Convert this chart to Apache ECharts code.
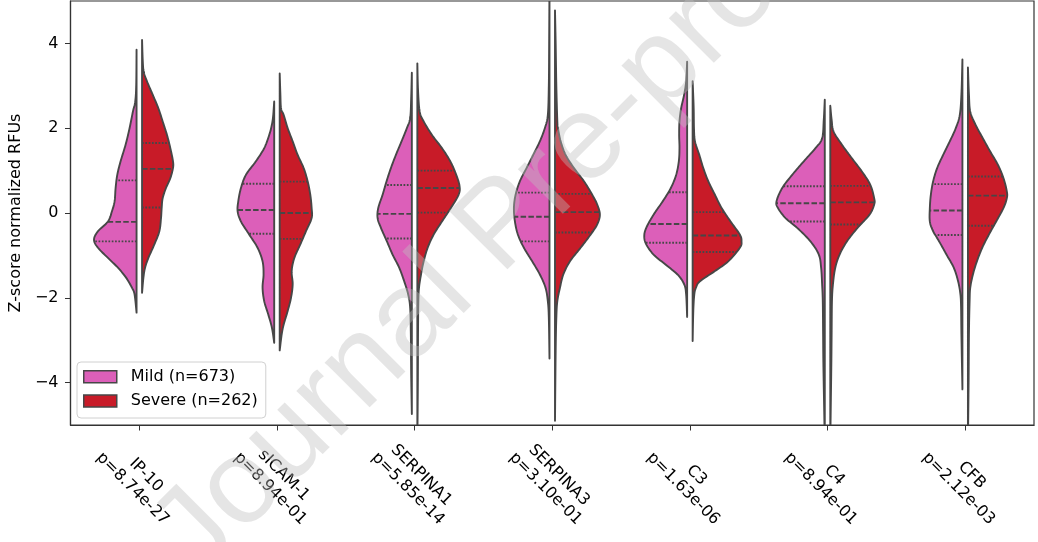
<!DOCTYPE html>
<html>
<head>
<meta charset="utf-8">
<script src="https://cdn.jsdelivr.net/npm/echarts@6/dist/echarts.min.js"></script>
<style>
html,body{margin:0;padding:0;background:#fff;}
#chart{width:1038px;height:542px;}
</style>
</head>
<body>
<div id="chart"></div>
<script>
// ---------------- DATA ----------------
const categories = ['IP-10', 'sICAM-1', 'SERPINA1', 'SERPINA3', 'C3', 'C4', 'CFB'];
const pValues = ['8.74e-27', '8.94e-01', '5.85e-14', '3.10e-01', '1.63e-06', '8.94e-01', '2.12e-03'];
const yTicks = [-4, -2, 0, 2, 4];
const seriesNames = ['Mild (n=673)', 'Severe (n=262)'];

// density profiles: [value, density], top to bottom
const mildIP10 = [[3.85,0],[3.02,0.01],[2.63,0.04],[2.39,0.11],[2.0,0.21],[1.61,0.33],[1.22,0.48],[0.90,0.58],[0.59,0.63],[0.28,0.66],[0.04,0.74],[-0.2,0.86],[-0.43,1.16],[-0.63,1.28],[-0.82,1.16],[-1.06,0.86],[-1.29,0.56],[-1.53,0.31],[-1.76,0.14],[-1.92,0.06],[-2.35,0]];
const mildSICAM1 = [[2.63,0],[2.3,0.03],[2.08,0.07],[1.84,0.15],[1.53,0.30],[1.22,0.55],[0.90,0.85],[0.59,1.00],[0.28,1.08],[0.04,1.10],[-0.20,1.00],[-0.51,0.75],[-0.82,0.50],[-1.14,0.35],[-1.45,0.32],[-1.76,0.35],[-2.08,0.30],[-2.39,0.18],[-2.70,0.07],[-3.06,0]];
const mildSERPINA1 = [[3.31,0],[2.7,0.02],[2.24,0.05],[2.0,0.15],[1.69,0.31],[1.37,0.48],[1.06,0.63],[0.75,0.76],[0.43,0.88],[0.12,1.01],[-0.12,1.03],[-0.35,0.93],[-0.67,0.75],[-0.98,0.58],[-1.29,0.38],[-1.61,0.23],[-1.92,0.11],[-2.24,0.05],[-2.86,0.03],[-3.8,0.02],[-4.74,0]];
const mildSERPINA3 = [[5.4,0],[4.0,0.01],[3.0,0.02],[2.31,0.05],[2.0,0.14],[1.69,0.29],[1.37,0.49],[1.06,0.69],[0.75,0.89],[0.43,1.02],[0.12,1.07],[-0.20,1.04],[-0.51,0.95],[-0.82,0.77],[-1.14,0.52],[-1.45,0.29],[-1.76,0.12],[-2.08,0.05],[-2.47,0.02],[-3.43,0]];
const mildC3 = [[3.57,0],[3.1,0.03],[2.79,0.09],[2.47,0.18],[2.16,0.23],[1.84,0.24],[1.53,0.23],[1.22,0.25],[0.90,0.33],[0.59,0.49],[0.28,0.73],[-0.04,1.01],[-0.35,1.23],[-0.55,1.29],[-0.74,1.23],[-0.98,1.01],[-1.21,0.66],[-1.45,0.29],[-1.68,0.09],[-1.92,0.03],[-2.45,0]];
const mildC4 = [[2.67,0],[2.2,0.03],[1.76,0.08],[1.53,0.28],[1.22,0.63],[0.90,0.98],[0.59,1.28],[0.28,1.45],[0.12,1.41],[-0.12,1.18],[-0.35,0.83],[-0.67,0.43],[-0.98,0.18],[-1.29,0.11],[-1.68,0.08],[-2.08,0.06],[-2.86,0.05],[-3.65,0.04],[-5.4,0]];
const mildCFB = [[3.62,0],[2.8,0.03],[2.31,0.08],[2.0,0.20],[1.69,0.38],[1.37,0.58],[1.06,0.76],[0.75,0.88],[0.43,0.95],[0.12,0.98],[-0.20,0.98],[-0.43,0.88],[-0.67,0.70],[-0.98,0.48],[-1.29,0.26],[-1.61,0.13],[-1.92,0.06],[-2.24,0.04],[-2.86,0.03],[-4.16,0]];

const severeIP10 = [[4.08,0],[3.6,0.02],[3.33,0.05],[3.10,0.15],[2.79,0.32],[2.47,0.49],[2.16,0.62],[1.84,0.75],[1.53,0.85],[1.22,0.93],[1.06,0.93],[0.82,0.85],[0.59,0.72],[0.35,0.62],[0.12,0.59],[-0.12,0.57],[-0.43,0.52],[-0.74,0.37],[-1.06,0.19],[-1.29,0.09],[-1.53,0.04],[-1.88,0]];
const severeSICAM1 = [[3.29,0],[2.8,0.02],[2.47,0.04],[2.31,0.12],[2.0,0.24],[1.69,0.39],[1.37,0.54],[1.06,0.72],[0.75,0.84],[0.43,0.92],[0.12,0.96],[-0.12,0.96],[-0.43,0.79],[-0.74,0.62],[-1.06,0.44],[-1.37,0.36],[-1.68,0.39],[-2.0,0.34],[-2.31,0.24],[-2.63,0.12],[-2.86,0.06],[-3.24,0]];
const severeSERPINA1 = [[3.53,0],[2.9,0.02],[2.39,0.07],[2.16,0.19],[1.84,0.44],[1.53,0.74],[1.22,0.99],[0.90,1.17],[0.63,1.27],[0.43,1.24],[0.12,1.01],[-0.20,0.74],[-0.51,0.49],[-0.82,0.31],[-1.14,0.19],[-1.45,0.11],[-1.76,0.05],[-2.08,0.03],[-2.86,0.02],[-4.0,0.015],[-5.4,0]];
const severeSERPINA3 = [[4.78,0],[4.0,0.02],[3.0,0.04],[2.16,0.07],[2.0,0.09],[1.69,0.17],[1.37,0.32],[1.06,0.57],[0.75,0.87],[0.43,1.12],[0.20,1.27],[-0.04,1.35],[-0.27,1.27],[-0.51,1.07],[-0.82,0.77],[-1.14,0.45],[-1.45,0.25],[-1.76,0.15],[-2.08,0.07],[-2.47,0.04],[-3.25,0.02],[-4.9,0]];
const severeC3 = [[3.11,0],[2.5,0.03],[2.0,0.04],[1.69,0.07],[1.37,0.20],[1.06,0.32],[0.75,0.47],[0.43,0.67],[0.12,0.87],[-0.2,1.14],[-0.51,1.42],[-0.67,1.47],[-0.82,1.42],[-1.14,1.07],[-1.37,0.67],[-1.61,0.22],[-1.76,0.10],[-1.92,0.05],[-2.3,0.02],[-3.02,0]];
const severeC4 = [[2.53,0],[2.2,0.04],[1.92,0.10],[1.61,0.35],[1.29,0.65],[0.98,0.95],[0.67,1.20],[0.35,1.32],[0.2,1.32],[-0.04,1.18],[-0.35,0.82],[-0.67,0.50],[-0.98,0.28],[-1.29,0.15],[-1.68,0.08],[-2.08,0.05],[-2.86,0.04],[-3.65,0.03],[-5.4,0]];
const severeCFB = [[3.43,0],[2.8,0.03],[2.39,0.07],[2.08,0.23],[1.76,0.45],[1.45,0.67],[1.14,0.90],[0.82,1.07],[0.51,1.17],[0.35,1.17],[0.12,1.07],[-0.20,0.85],[-0.51,0.63],[-0.82,0.43],[-1.14,0.27],[-1.45,0.15],[-1.76,0.07],[-2.08,0.05],[-2.86,0.03],[-4.0,0.02],[-5.4,0]];

// quartiles per category: [upper quartile, median, lower quartile]
const mildQuartiles = [[0.77,-0.21,-0.67],[0.69,0.07,-0.49],[0.66,-0.02,-0.60],[0.48,-0.09,-0.67],[0.49,-0.26,-0.70],[0.63,0.23,-0.20],[0.68,0.06,-0.52]];
const severeQuartiles = [[1.65,1.04,0.13],[0.74,0.00,-0.61],[1.00,0.59,0.01],[0.45,0.02,-0.46],[0.02,-0.53,-0.92],[0.64,0.25,-0.27],[0.86,0.41,-0.30]];

const mildProfiles = [mildIP10, mildSICAM1, mildSERPINA1, mildSERPINA3, mildC3, mildC4, mildCFB];
const severeProfiles = [severeIP10, severeSICAM1, severeSERPINA1, severeSERPINA3, severeC3, severeC4, severeCFB];

// ---------------- STYLE ----------------
const PINK = '#dc5fb9';
const RED = '#c81b28';
const EDGE = '#474747';
const DENSITY_SCALE = 0.2415; // fraction of category width per density unit
const GAP = 0.02;             // half gap between the two halves (fraction of category)
const FONT = '"DejaVu Sans", sans-serif';
const FS = 16;

function catmull(pts, n) {
  const out = [];
  const L = pts.length;
  for (let i = 0; i < L - 1; i++) {
    const p0 = pts[Math.max(i - 1, 0)], p1 = pts[i], p2 = pts[i + 1], p3 = pts[Math.min(i + 2, L - 1)];
    for (let s = 0; s < n; s++) {
      const t = s / n, t2 = t * t, t3 = t2 * t;
      const f = (a, b, c, d) => 0.5 * ((2 * b) + (-a + c) * t + (2 * a - 5 * b + 4 * c - d) * t2 + (-a + 3 * b - 3 * c + d) * t3);
      out.push([f(p0[0], p1[0], p2[0], p3[0]), f(p0[1], p1[1], p2[1], p3[1])]);
    }
  }
  out.push(pts[L - 1].slice());
  return out;
}

function makeRender(profiles, quartiles, side, color) {
  return function (params, api) {
    const cat = api.value(0);
    const prof = profiles[cat];
    const q = quartiles[cat];
    const bw = api.size([1, 0])[0];
    const cx = api.coord([cat, 0])[0];
    const x0 = cx + side * GAP * bw;
    const raw = prof.map(p => [x0 + side * p[1] * DENSITY_SCALE * bw, api.coord([cat, p[0]])[1]]);
    let outer = catmull(raw, 10);
    outer = outer.map(p => [side > 0 ? Math.max(p[0], x0) : Math.min(p[0], x0), p[1]]);
    const children = [{
      type: 'polygon',
      shape: { points: outer },
      style: { fill: color, stroke: EDGE, lineWidth: 1.9, lineJoin: 'round' }
    }];
    function widthAt(y) {
      for (let i = 0; i < outer.length - 1; i++) {
        const a = outer[i], b = outer[i + 1];
        if ((a[1] - y) * (b[1] - y) <= 0 && a[1] !== b[1]) {
          const t = (y - a[1]) / (b[1] - a[1]);
          return a[0] + (b[0] - a[0]) * t;
        }
      }
      return x0;
    }
    q.forEach((v, k) => {
      const y = api.coord([cat, v])[1];
      const xe = widthAt(y);
      children.push({
        type: 'line',
        shape: { x1: x0, y1: y, x2: xe, y2: y },
        style: { stroke: EDGE, lineWidth: 1.9, lineDash: k === 1 ? [5.5, 2.3] : [1.7, 1.6] }
      });
    });
    return { type: 'group', children: children };
  };
}

const chart = echarts.init(document.getElementById('chart'), null, { renderer: 'canvas' });
const catData = categories.map((c, i) => [i]);

const option = {
  animation: false,
  backgroundColor: '#ffffff',
  grid: { left: 69, right: 4, top: 1, bottom: 117, show: true, borderColor: '#333', borderWidth: 1.2, backgroundColor: 'transparent' },
  legend: {
    orient: 'vertical',
    left: 77, top: 362,
    data: seriesNames,
    icon: 'rect',
    itemWidth: 33, itemHeight: 12, itemGap: 6.3,
    padding: [5.7, 8, 8, 6],
    backgroundColor: 'rgba(255,255,255,0.85)',
    borderColor: '#d0d0d0', borderWidth: 1, borderRadius: 4,
    itemStyle: { borderColor: EDGE, borderWidth: 1.5 },
    textStyle: { fontFamily: FONT, fontSize: FS, color: '#000', padding: [0, 0, 0, 9], lineHeight: 18 },
    selectedMode: false
  },
  xAxis: {
    type: 'category',
    data: categories,
    boundaryGap: true,
    axisLine: { show: true, onZero: false, lineStyle: { color: '#333', width: 1.2 } },
    axisTick: { show: true, alignWithLabel: true, length: 5.5, lineStyle: { color: '#333' } },
    axisLabel: {
      interval: 0,
      rotate: -45,
      align: 'center',
      verticalAlign: 'middle',
      margin: 57,
      fontFamily: FONT, fontSize: FS, color: '#000', lineHeight: 19,
      formatter: (v, i) => v + '\n' + 'p=' + pValues[i]
    },
    splitLine: { show: false }
  },
  yAxis: {
    type: 'value',
    min: -5, max: 5,
    name: 'Z-score normalized RFUs',
    nameLocation: 'middle',
    nameGap: 42,
    nameTextStyle: { fontFamily: FONT, fontSize: FS, color: '#000' },
    axisLine: { show: true, lineStyle: { color: '#333', width: 1.2 } },
    axisTick: { show: true, length: 5.5, customValues: yTicks, lineStyle: { color: '#333' } },
    axisLabel: {
      customValues: yTicks,
      margin: 12,
      fontFamily: FONT, fontSize: FS, color: '#000',
      formatter: v => (v < 0 ? '\u2212' + Math.abs(v) : String(v))
    },
    splitLine: { show: false }
  },
  series: [
    {
      name: seriesNames[0], type: 'custom', clip: true,
      itemStyle: { color: PINK, borderColor: EDGE, borderWidth: 1.5 },
      renderItem: makeRender(mildProfiles, mildQuartiles, -1, PINK),
      data: catData, z: 2
    },
    {
      name: seriesNames[1], type: 'custom', clip: true,
      itemStyle: { color: RED, borderColor: EDGE, borderWidth: 1.5 },
      renderItem: makeRender(severeProfiles, severeQuartiles, 1, RED),
      data: catData, z: 2
    }
  ],
  graphic: [{
    type: 'text',
    x: 503, y: 227,
    rotation: Math.PI / 4,
    z: 100,
    silent: true,
    style: {
      text: 'Journal Pre-proof',
      fontFamily: '"Liberation Sans", Arial, sans-serif',
      fontSize: 120,
      fill: 'rgba(190,190,190,0.4)',
      textAlign: 'center',
      textVerticalAlign: 'middle'
    }
  }]
};
chart.setOption(option);
</script>
</body>
</html>
